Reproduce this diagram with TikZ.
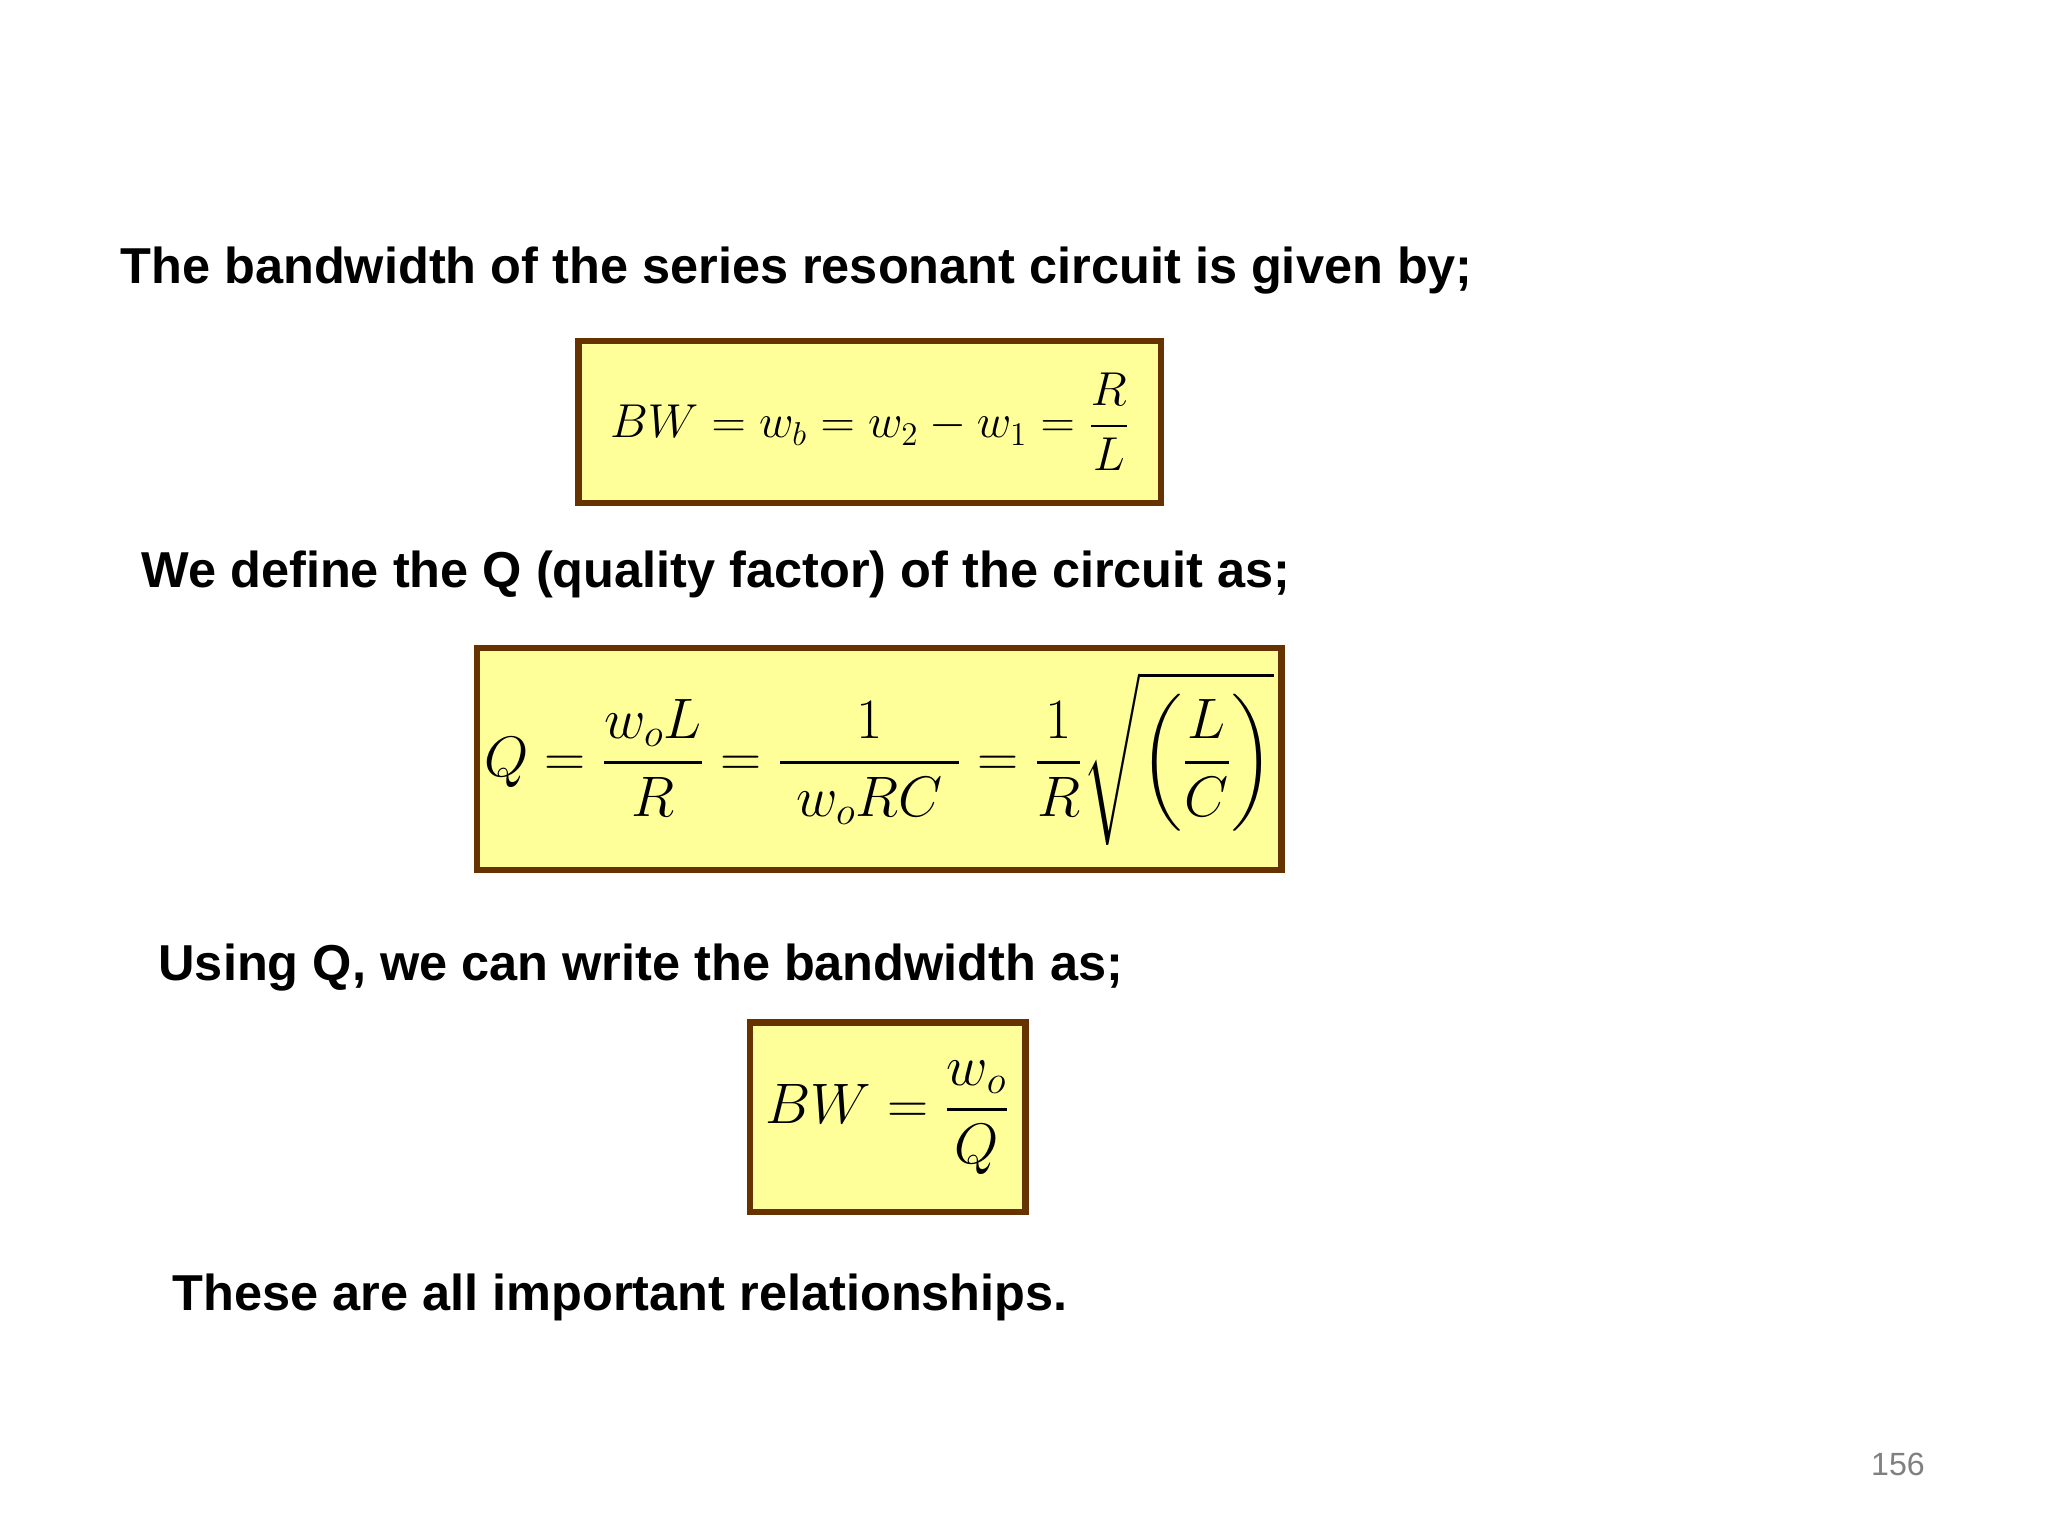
\documentclass[tikz,border=0pt]{standalone}
\usepackage{fontspec}
\setmainfont{Liberation Sans}
\usepackage{amsmath}
\definecolor{boxfill}{HTML}{FFFF99}
\definecolor{boxline}{HTML}{663300}
\tikzset{
  headtxt/.style={anchor=base west,font=\fontsize{22}{26}\selectfont\bfseries,inner sep=0},
  eqbox/.style={draw=boxline,fill=boxfill,line width=2.8pt,inner sep=0,font=\fontsize{24}{28}\selectfont}
}
\begin{document}
\begin{tikzpicture}[x=0.02cm,y=-0.02cm]
\useasboundingbox[fill=white] (0,0) rectangle (1568,1176);
\node[headtxt] (t1) at (92,217) {The bandwidth of the series resonant circuit is given by;};
\node[eqbox,font=\fontsize{21}{25}\selectfont,minimum width=446*0.02cm,minimum height=124*0.02cm] (b1) at (666,323)
 {$BW = w_b = w_2 - w_1 = \dfrac{R}{L}$\hspace{6pt}};
\node[headtxt] (t2) at (108,450) {We define the Q (quality factor) of the circuit as;};
\node[eqbox,minimum width=616*0.02cm,minimum height=170*0.02cm] (b2) at (673,581)
 {$Q = \dfrac{w_oL}{R} = \dfrac{1}{\;w_oRC\;} = \dfrac{1}{R}\sqrt{\left(\dfrac{L}{C}\right)}$};
\node[headtxt] (t3) at (121,751) {Using Q, we can write the bandwidth as;};
\node[eqbox,minimum width=211*0.02cm,minimum height=145*0.02cm] (b3) at (679.5,855.5)
 {$BW = \dfrac{w_o}{Q}$};
\node[headtxt] (t4) at (132,1003) {These are all important relationships.};
\node[anchor=base east,font=\fontsize{14}{16}\selectfont,text=gray,inner sep=0] (pg) at (1474,1130) {156};
\end{tikzpicture}
\end{document}
